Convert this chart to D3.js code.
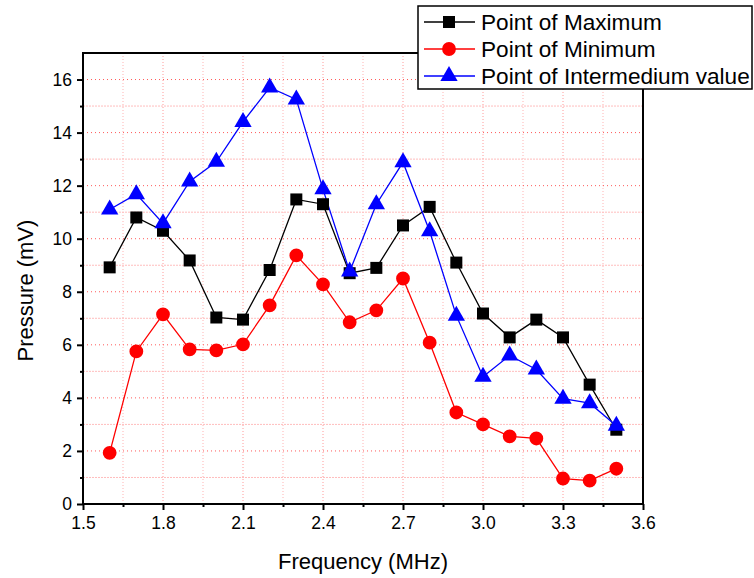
<!DOCTYPE html>
<html>
<head>
  <meta charset="utf-8" />
  <title>Pressure vs Frequency</title>
  <script src="https://d3js.org/d3.v7.min.js"></script>
  <style>
    body { margin: 0; background: #fff; }
    text { font-family: Arial, "Liberation Sans", sans-serif; fill: #000; }
  </style>
</head>
<body>
  <div id="chart"></div>
  <script type="text/javascript">

    var freq = [1.6, 1.7, 1.8, 1.9, 2.0, 2.1, 2.2, 2.3, 2.4, 2.5,
                2.6, 2.7, 2.8, 2.9, 3.0, 3.1, 3.2, 3.3, 3.4, 3.5];
    var maxPts = [8.92, 10.8, 10.3, 9.18, 7.03, 6.95, 8.82, 11.48, 11.3, 8.7,
                  8.9, 10.5, 11.2, 9.1, 7.18, 6.28, 6.95, 6.28, 4.5, 2.8];
    var minPts = [1.93, 5.75, 7.15, 5.83, 5.79, 6.02, 7.49, 9.37, 8.28, 6.85,
                  7.3, 8.5, 6.08, 3.45, 3.0, 2.55, 2.47, 0.96, 0.88, 1.33];
    var midPts = [11.1, 11.68, 10.58, 12.16, 12.9, 14.4, 15.7, 15.25, 11.86, 8.76,
                  11.3, 12.88, 10.28, 7.1, 4.8, 5.6, 5.07, 3.97, 3.8, 2.95];
    var seriesNames = ["Point of Maximum", "Point of Minimum", "Point of Intermedium value"];
    var xTicks = [1.5, 1.8, 2.1, 2.4, 2.7, 3.0, 3.3, 3.6];
    var yTicks = [0, 2, 4, 6, 8, 10, 12, 14, 16];

    var W = 754, H = 578;
    // plot box (don't call these top/left: window.top is read-only)
    var pL = 83, pR = 643, pT = 53, pB = 504;

    var svg = d3.select("#chart").append("svg")
      .attr("width", W).attr("height", H);

    var x = d3.scaleLinear().domain([1.5, 3.6]).range([pL, pR]);
    var y = d3.scaleLinear().domain([0, 17]).range([pB, pT]);

    var xMinor = d3.range(1.65, 3.6, 0.3);
    var yMinor = d3.range(1, 17, 2);

    /* grid */
    var grid = svg.append("g");
    grid.selectAll(".gxm").data(xMinor).enter().append("line")
      .attr("x1", d => x(d)).attr("x2", d => x(d))
      .attr("y1", pT).attr("y2", pB)
      .style("stroke", "#ffb3b3").style("stroke-dasharray", "1,2");
    grid.selectAll(".gx").data(xTicks.slice(1, -1)).enter().append("line")
      .attr("x1", d => x(d)).attr("x2", d => x(d))
      .attr("y1", pT).attr("y2", pB)
      .style("stroke", "#ff9a9a").style("stroke-dasharray", "1,2");
    grid.selectAll(".gym").data(yMinor).enter().append("line")
      .attr("x1", pL).attr("x2", pR)
      .attr("y1", d => y(d)).attr("y2", d => y(d))
      .style("stroke", "#ffbdbd").style("stroke-dasharray", "2,1");
    grid.selectAll(".gy").data(yTicks.slice(1)).enter().append("line")
      .attr("x1", pL).attr("x2", pR)
      .attr("y1", d => y(d)).attr("y2", d => y(d))
      .style("stroke", "#ff5a5a").style("stroke-dasharray", "1,3");

    /* axes */
    svg.append("g").attr("transform", "translate(0," + pB + ")")
      .call(d3.axisBottom(x).tickValues(xTicks).tickFormat(d3.format(".1f")).tickSize(6).tickPadding(7));
    svg.append("g").attr("transform", "translate(0," + pB + ")")
      .call(d3.axisBottom(x).tickValues(xMinor).tickFormat("").tickSize(3));
    svg.append("g").attr("transform", "translate(" + pL + ",0)")
      .call(d3.axisLeft(y).tickValues(yTicks).tickSize(6).tickPadding(5));
    svg.append("g").attr("transform", "translate(" + pL + ",0)")
      .call(d3.axisLeft(y).tickValues(yMinor).tickFormat("").tickSize(3));

    svg.selectAll(".domain").remove();
    svg.selectAll(".tick line").style("stroke", "#000").style("stroke-width", 2);
    svg.selectAll(".tick text").style("font-size", "17.5px")
      .style("font-family", "Arial, 'Liberation Sans', sans-serif");

    // frame
    svg.append("rect")
      .attr("x", pL).attr("y", pT)
      .attr("width", pR - pL).attr("height", pB - pT)
      .style("fill", "none").style("stroke", "#000").style("stroke-width", 2);

    /* axis titles */
    svg.append("text").attr("x", (pL + pR) / 2).attr("y", 569)
      .attr("text-anchor", "middle").style("font-size", "22px").text("Frequency (MHz)");
    svg.append("text").attr("transform", "translate(33," + ((pT + pB) / 2 + 12) + ") rotate(-90)")
      .attr("text-anchor", "middle").style("font-size", "22px").text("Pressure (mV)");

    /* series */
    var series = [
      { name: seriesNames[0], values: maxPts, color: "#000000", shape: d3.symbolSquare, size: 144 },
      { name: seriesNames[1], values: minPts, color: "#ff0000", shape: d3.symbolCircle, size: 150 },
      { name: seriesNames[2], values: midPts, color: "#0000ff", shape: d3.symbolTriangle, size: 130 }
    ];

    var line = d3.line().x(d => x(d[0])).y(d => y(d[1]));

    series.forEach(function (s) {
      var pts = freq.map((f, i) => [f, s.values[i]]);
      svg.append("path").datum(pts).attr("d", line)
        .style("fill", "none").style("stroke", s.color).style("stroke-width", 1.3);
    });
    series.forEach(function (s) {
      var pts = freq.map((f, i) => [f, s.values[i]]);
      svg.selectAll(null).data(pts).enter().append("path")
        .attr("d", d3.symbol().type(s.shape).size(s.size))
        .attr("transform", d => "translate(" + x(d[0]) + "," + y(d[1]) + ")")
        .style("fill", s.color);
    });

    /* legend */
    var lg = svg.append("g");
    lg.append("rect").attr("x", 418).attr("y", 6).attr("width", 334).attr("height", 83)
      .style("fill", "#fff").style("stroke", "#000").style("stroke-width", 1.5);
    series.forEach(function (s, i) {
      var ly = 22 + i * 27;
      lg.append("line").attr("x1", 424).attr("x2", 475).attr("y1", ly).attr("y2", ly)
        .style("stroke", s.color).style("stroke-width", 1.3);
      lg.append("path").attr("d", d3.symbol().type(s.shape).size(s.size))
        .attr("transform", "translate(449," + ly + ")").style("fill", s.color);
      lg.append("text").attr("x", 481).attr("y", ly + 8).style("font-size", "22.6px").text(s.name);
    });
  </script>
</body>
</html>
